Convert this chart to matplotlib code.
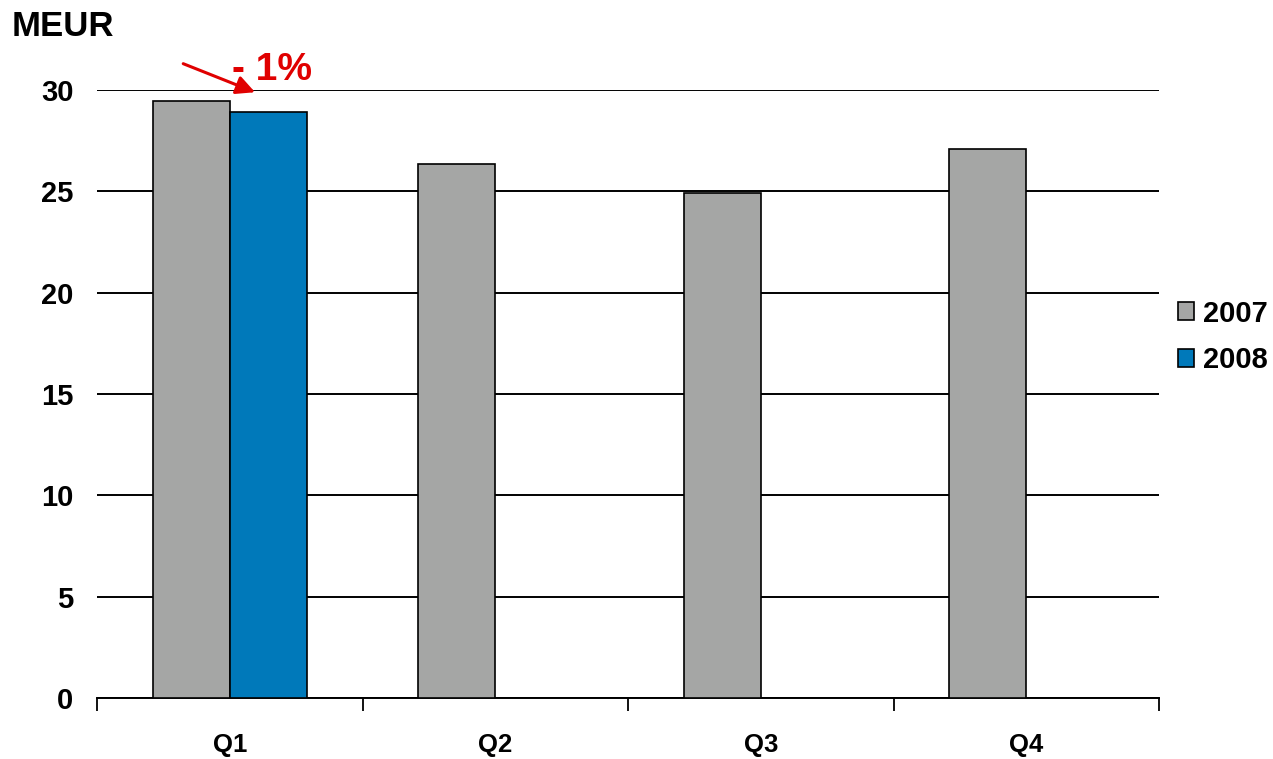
import matplotlib.pyplot as plt
import numpy as np

plt.rcParams['font.family'] = ['Liberation Sans', 'DejaVu Sans']
plt.rcParams['font.weight'] = 'bold'

# data
quarters = ['Q1', 'Q2', 'Q3', 'Q4']
values_2007 = [29.45, 26.35, 24.9, 27.1]
values_2008 = [28.9]
change_label = '- 1%'

gray = '#A5A6A5'
blue = '#0079BA'

fig = plt.figure(figsize=(12.73, 7.59), dpi=100)
ax = fig.add_axes([0.0762, 0.0804, 0.8343, 0.801])

x = np.arange(len(quarters))
w = 0.29
ax.bar(x - w / 2, values_2007, w, color=gray, edgecolor='black', linewidth=1.2, zorder=3, label='2007')
ax.bar(x[:len(values_2008)] + w / 2, values_2008, w, color=blue, edgecolor='black', linewidth=1.2, zorder=3, label='2008')

ax.set_xlim(-0.5, 3.5)
ax.set_ylim(0, 30)
ax.set_yticks(range(0, 31, 5))
ax.yaxis.grid(True, color='black', linewidth=1.4, zorder=0)
ax.tick_params(axis='y', length=0, pad=17, labelsize=21)
ax.set_xticks(x)
ax.set_xticklabels(quarters)
ax.set_xticks(np.arange(-0.5, 4, 1), minor=True)
ax.tick_params(axis='x', which='major', length=0, pad=25, labelsize=18.5)
ax.tick_params(axis='x', which='minor', length=9, width=1.3, direction='out')

for s in ['left', 'right', 'top']:
    ax.spines[s].set_visible(False)
ax.spines['bottom'].set_linewidth(1.4)

# annotation
ax.annotate('', xy=(0.105, 29.84), xytext=(-0.185, 31.35),
            arrowprops=dict(arrowstyle='-|>', color='#E00000', lw=2.2, mutation_scale=28),
            annotation_clip=False, zorder=4)
ax.text(0.008, 30.5, change_label, color='#E00000', fontsize=28, ha='left', va='baseline',
        fontweight='bold')

fig.text(0.009, 0.965, 'MEUR', fontsize=25, fontweight='bold', ha='left', va='center')

fig.legend(loc='center left', bbox_to_anchor=(0.925, 0.556), frameon=False,
           fontsize=21, handlelength=0.55, handleheight=0.55, handletextpad=0.32,
           labelspacing=0.65, borderaxespad=0, borderpad=0)

fig.savefig('out.png', dpi=100)
